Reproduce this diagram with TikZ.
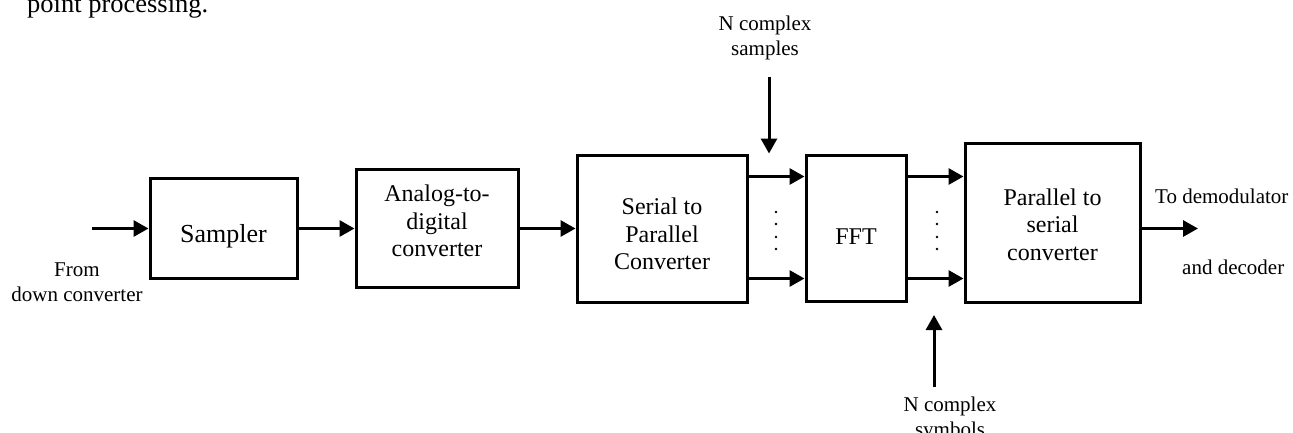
\documentclass[tikz,border=0pt]{standalone}
\usepackage{fontspec}
\setmainfont{Liberation Serif}
\usepackage{tikz}
\usetikzlibrary{arrows.meta}
\tikzset{
  blk/.style={draw, line width=3pt, inner sep=0pt},
  blktxt/.style={align=center, inner sep=0pt, anchor=center,
    font=\fontsize{24}{27.5}\selectfont},
  arr/.style={line width=3pt, -{Triangle[length=15pt,width=16pt]}},
  lbl/.style={align=center, inner sep=0pt, font=\fontsize{21}{24.5}\selectfont},
}

\begin{document}
\begin{tikzpicture}[x=1pt, y=-1pt]
      \useasboundingbox (0,0) rectangle (1293,432);

      \node[anchor=base west, inner sep=0pt, font=\fontsize{26.5}{30}\selectfont] (head) at (27,12) {point processing.};

      \node[blk, minimum width=147pt, minimum height=100pt,
        label={[blktxt, yshift=-8pt, font=\fontsize{26}{30}\selectfont]center:Sampler}] (sampler) at (223.5,228.5) {};
      \node[blk, minimum width=162pt, minimum height=118pt,
        label={[blktxt, yshift=7.5pt]center:Analog-to-\\digital\\converter}] (adc) at (437,228.5) {};
      \node[blk, minimum width=170pt, minimum height=147pt,
        label={[blktxt, yshift=-5.5pt]center:Serial to\\Parallel\\Converter}] (sp) at (662,228.5) {};
      \node[blk, minimum width=100pt, minimum height=146pt,
        label={[blktxt, yshift=-9pt]center:FFT}] (fft) at (856,228) {};
      \node[blk, minimum width=175pt, minimum height=159pt,
        label={[blktxt, yshift=-2pt]center:Parallel to\\serial\\converter}] (ps) at (1052.5,222.5) {};

      \node[lbl] (from) at (77,282) {From\\down converter};
      \node[lbl, anchor=base west] (todemod) at (1155,203) {To demodulator};
      \node[lbl, anchor=base west] (todec) at (1182,274) {and decoder};
      \node[lbl] (nsamp) at (765,38) {N complex\\samples};
      \node[lbl] (nsym) at (950,419) {N complex\\symbols};

      \coordinate (in) at (92,228.5);
      \coordinate (out) at (1198,228.5);
      \coordinate (dtop) at (769,77);
      \coordinate (ubot) at (934,387);
      \coordinate (utip) at (934,315);

      \draw[arr] (in) -- (sampler.west);
      \draw[arr] (sampler.east) -- (adc.west);
      \draw[arr] (adc.east) -- (sp.west);
      \draw[arr] ([yshift=-23pt]sp.north east) coordinate (a1) -- (a1 -| fft.west);
      \draw[arr] ([yshift=25pt]sp.south east) coordinate (a2) -- (a2 -| fft.west);
      \draw[arr] (a1 -| fft.east) -- (a1 -| ps.west);
      \draw[arr] (a2 -| fft.east) -- (a2 -| ps.west);
      \draw[arr] (ps.east |- out) -- (out);
      \draw[arr] (dtop) -- (dtop |- sp.north);
      \draw[arr] (ubot) -- (utip);

      \foreach \yy in {212,224,237,249} {
        \fill (776,\yy) circle (1.4pt);
        \fill (937,\yy) circle (1.4pt);
      }
    \end{tikzpicture}
\end{document}
